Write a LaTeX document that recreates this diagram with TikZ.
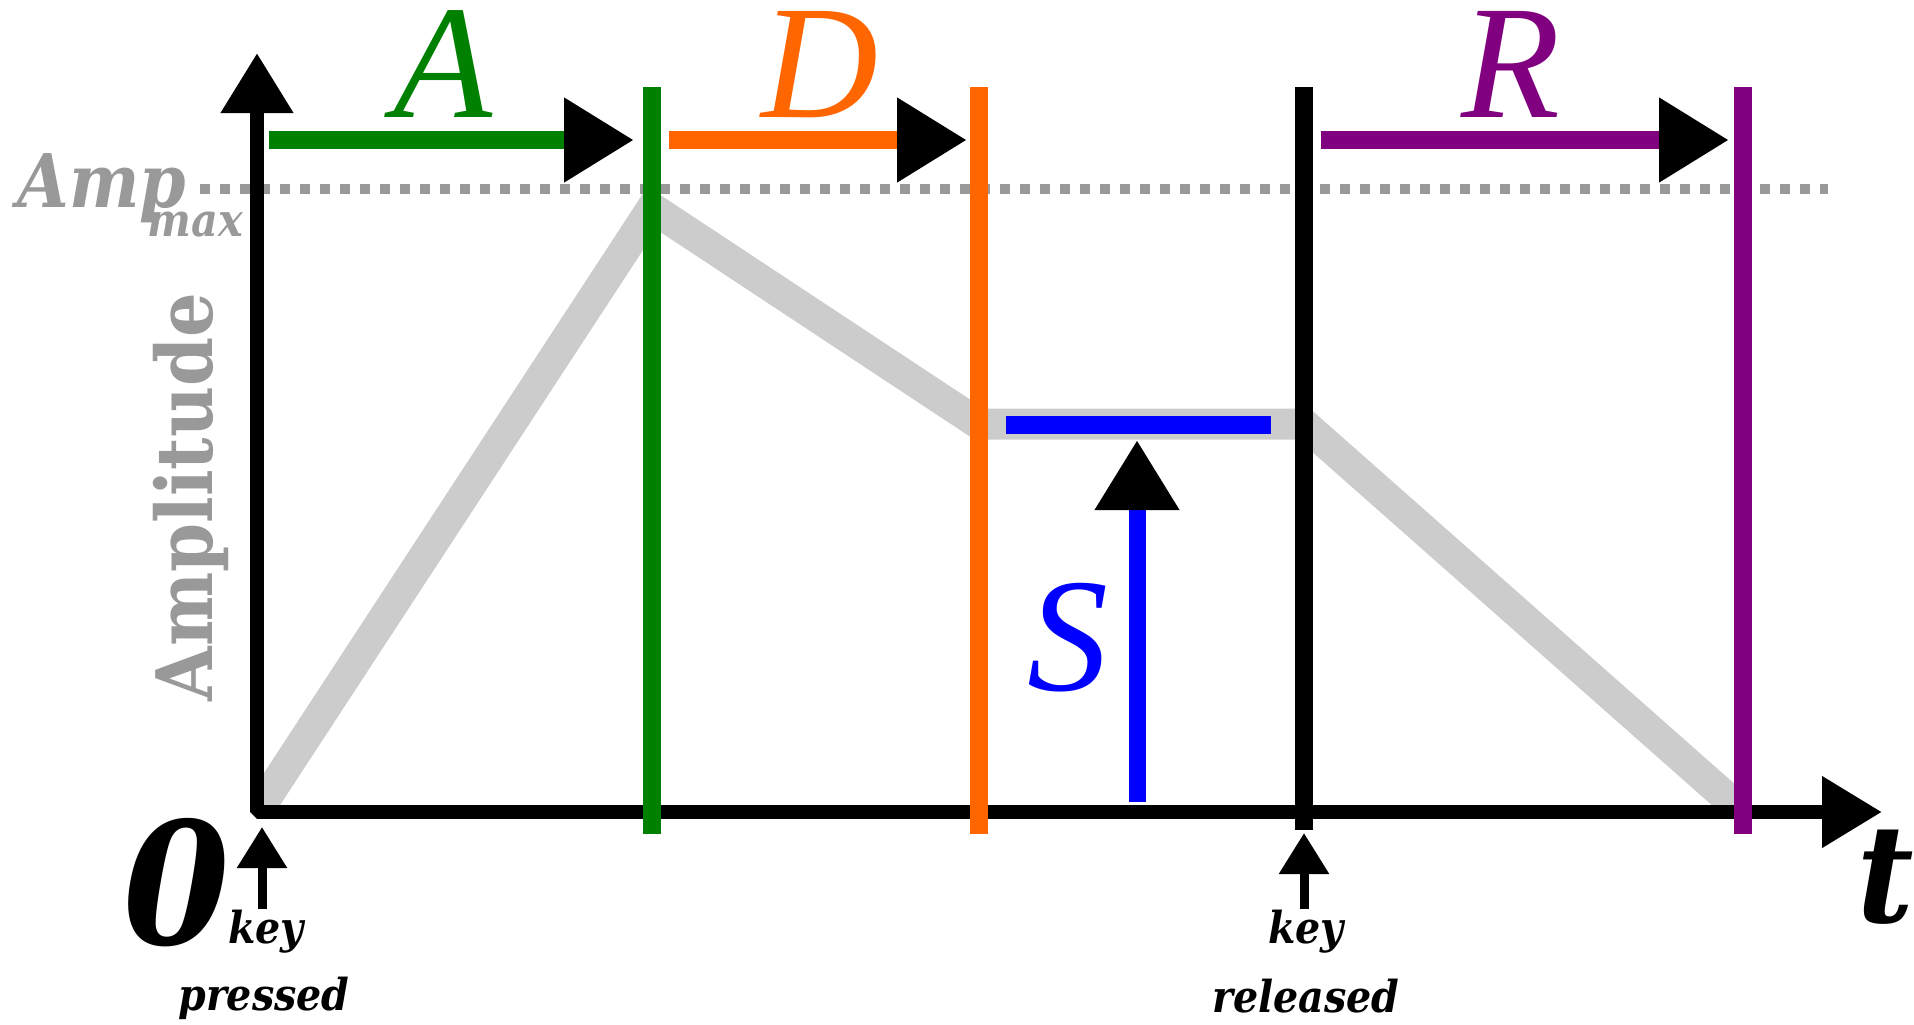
\documentclass[tikz,border=0pt]{standalone}
\usepackage{fontspec}
\setmainfont{Liberation Serif}
\newfontfamily\condf{DejaVu Serif Condensed}
\usetikzlibrary{arrows.meta}
\definecolor{grn}{HTML}{008000}
\definecolor{org}{HTML}{FF6600}
\definecolor{blu}{HTML}{0000FF}
\definecolor{prp}{HTML}{800080}
\definecolor{envgray}{HTML}{CCCCCC}
\definecolor{dotgray}{HTML}{999999}
\definecolor{txtgray}{HTML}{999999}
\begin{document}
\begin{tikzpicture}[x=0.5pt,y=-0.5pt,
  axisline/.style={line width=7pt, black, line join=bevel,
    {Triangle[length=30pt,width=34.5pt]}-{Triangle[length=30pt,width=34pt]}},
  envline/.style={line width=15.5pt, envgray, line join=miter},
  dotline/.style={line width=5pt, dotgray, dash pattern=on 5pt off 5pt},
  vline/.style={line width=9pt},
  phasearrow/.style={line width=9pt, -{Triangle[length=35pt,width=40pt,color=black]}},
  keyarrow/.style={line width=4.5pt, black, -{Triangle[length=20.5pt,width=24pt]}},
  biglabel/.style={font=\fontsize{81}{86}\selectfont\itshape, inner sep=0pt, text height=53pt, text depth=0pt},
  keylabel/.style={font=\condf\fontsize{22}{26}\selectfont\bfseries\itshape, inner sep=0pt},
  amplabel/.style={font=\condf\fontsize{37}{40}\selectfont\bfseries\itshape, text=txtgray, inner sep=0pt}
]
\useasboundingbox (0,0) rectangle (1914,1024);

% key points
\coordinate (O) at (257,812);
\coordinate (ytip) at (257,53);
\coordinate (xtip) at (1882,812);
\coordinate (peak) at (652,208);
\coordinate (sus1) at (979,424);
\coordinate (sus2) at (1304,424);
\coordinate (rel) at (1743,812);

% envelope
\begin{scope}
  \clip (257,0) rectangle (1743,812);
  \draw[envline] (O) -- (peak) -- (sus1) -- (sus2) -- (rel);
\end{scope}

% dotted Amp max line
\coordinate (dl) at (200,189);
\coordinate (dr) at (1828,189);
\draw[dotline] (dl) -- (dr);

% sustain level
\coordinate (bl) at (1006,425);
\coordinate (br) at (1271,425);
\draw[line width=9pt, blu] (bl) -- (br);

% axes
\draw[axisline] (ytip) |- (xtip);

% phase boundaries
\coordinate (gt) at (652,87);  \coordinate (gb) at (652,834);
\coordinate (ot) at (979,87);  \coordinate (ob) at (979,834);
\coordinate (kt) at (1304,87); \coordinate (kb) at (1304,830);
\coordinate (pt) at (1743,87); \coordinate (pb) at (1743,834);
\draw[vline, grn] (gt) -- (gb);
\draw[vline, org] (ot) -- (ob);
\draw[vline, black] (kt) -- (kb);
\draw[vline, prp] (pt) -- (pb);

% phase arrows
\coordinate (a1) at (269,140); \coordinate (a2) at (634,140);
\coordinate (d1) at (669,140); \coordinate (d2) at (967,140);
\coordinate (r1) at (1321,140); \coordinate (r2) at (1729,140);
\coordinate (s1) at (1137,802); \coordinate (s2) at (1137,440);
\draw[phasearrow, grn] (a1) -- (a2);
\draw[phasearrow, org] (d1) -- (d2);
\draw[phasearrow, prp] (r1) -- (r2);
\draw[phasearrow, blu, line width=8.5pt] (s1) -- (s2);

% key arrows
\coordinate (kp1) at (262,909); \coordinate (kp2) at (262,827);
\coordinate (kr1) at (1304,909); \coordinate (kr2) at (1304,833);
\draw[keyarrow] (kp1) -- (kp2);
\draw[keyarrow] (kr1) -- (kr2);

% labels
\node[biglabel, text=grn, anchor=base] (Alab) at (443,117) {A};
\node[biglabel, text=org, anchor=base] (Dlab) at (820,117) {D};
\node[biglabel, text=prp, anchor=base] (Rlab) at (1511,117) {R};
\node[biglabel, text=blu, anchor=base] (Slab) at (1068,690) {S};

\node[font=\condf\fontsize{39}{42}\selectfont\bfseries, text=txtgray, rotate=90, anchor=base, inner sep=0pt] (amp) at (212,497) {Amplitude};

\node[amplabel, anchor=base west] (Amp) at (17,207) {Amp};
\node[amplabel, font=\condf\fontsize{23}{26}\selectfont\bfseries\itshape, anchor=base west] (max) at (147,236) {max};

\node[font=\condf\fontsize{85}{90}\selectfont\bfseries\itshape, inner sep=0pt, anchor=base] (zero) at (177,944) {0};
\node[font=\condf\fontsize{68}{72}\selectfont\bfseries\itshape, inner sep=0pt, anchor=base] (tlab) at (1886,922) {t};

\node[keylabel, anchor=base] (key1) at (266,943) {key};
\node[keylabel, anchor=base] (press) at (264,1010) {pressed};
\node[keylabel, anchor=base] (key2) at (1306,943) {key};
\node[keylabel, anchor=base] (relea) at (1306,1012) {released};
\end{tikzpicture}
\end{document}
